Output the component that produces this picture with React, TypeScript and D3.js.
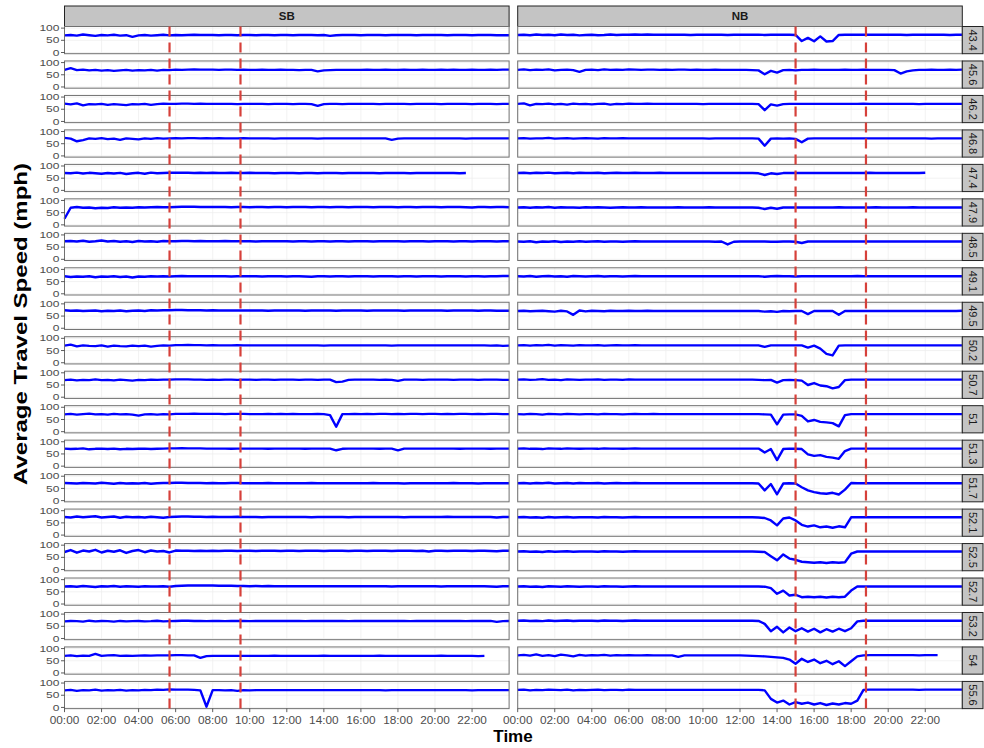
import React from 'react';
import * as d3 from 'd3';

// Sampling instants in hours (every 20 minutes, 00:00 .. 24:00)
const TIMES: number[] = d3.range(0, 73).map((i) => i / 3);

const DIRECTIONS = ['SB', 'NB'];
const SEGMENTS = ['43.4', '45.6', '46.2', '46.8', '47.4', '47.9', '48.5', '49.1', '49.5', '50.2', '50.7', '51', '51.3', '51.7', '52.1', '52.5', '52.7', '53.2', '54', '55.6'];

const X_TICKS = [0, 2, 4, 6, 8, 10, 12, 14, 16, 18, 20, 22];
const X_TICK_LABELS = ['00:00', '02:00', '04:00', '06:00', '08:00', '10:00', '12:00', '14:00', '16:00', '18:00', '20:00', '22:00'];
const Y_TICKS = [0, 50, 100];

// Peak-period markers (hours)
const PEAK_SB = [5.67, 9.5];
const PEAK_NB = [15.0, 18.8];

type V = number | null;
const N = null;

// ---------------- SB ----------------
const SB_43_4: V[] = [
  70, 72, 69, 74, 71, 68, 72, 70, 73, 69, 71, 64,
  70, 72, 69, 71, 73, 70, 72, 71, 72, 73, 72, 72,
  72, 71, 72, 72, 71, 72, 72, 71, 72, 72, 71, 72,
  72, 71, 72, 72, 72, 71, 72, 68, 71, 72, 72, 72,
  71, 72, 72, 72, 71, 72, 72, 72, 72, 71, 72, 72,
  72, 72, 71, 72, 72, 72, 71, 72, 72, 72, 71, 71,
  71];
const SB_45_6: V[] = [
  70, 77, 69, 71, 68, 70, 67, 69, 66, 68, 70, 67,
  69, 68, 70, 67, 70, 69, 71, 70, 71, 72, 71, 71,
  71, 70, 71, 71, 70, 71, 70, 70, 71, 70, 70, 71,
  70, 70, 69, 70, 70, 64, 68, 69, 70, 70, 70, 70,
  70, 71, 70, 70, 71, 70, 70, 71, 70, 70, 71, 70,
  70, 71, 70, 71, 70, 70, 71, 70, 70, 71, 70, 71,
  71];
const SB_46_2: V[] = [
  73, 70, 74, 66, 71, 70, 72, 68, 71, 69, 67, 71,
  70, 72, 68, 71, 73, 72, 72, 73, 73, 72, 73, 72,
  72, 72, 72, 72, 71, 72, 72, 72, 72, 71, 72, 72,
  72, 71, 72, 72, 71, 64, 71, 72, 72, 71, 72, 72,
  72, 72, 72, 71, 72, 72, 72, 72, 71, 72, 72, 72,
  72, 71, 72, 72, 72, 72, 71, 72, 72, 72, 71, 72,
  72];
const SB_46_8: V[] = [
  74, 71, 60, 65, 72, 70, 73, 69, 71, 66, 72, 70,
  68, 72, 70, 73, 71, 72, 73, 72, 73, 73, 72, 73,
  72, 73, 72, 72, 72, 73, 72, 72, 72, 72, 71, 72,
  72, 72, 72, 72, 72, 71, 72, 72, 72, 72, 72, 72,
  72, 72, 72, 72, 72, 66, 71, 72, 72, 72, 72, 72,
  72, 72, 72, 72, 72, 71, 72, 72, 72, 72, 72, 72,
  72];
const SB_47_4: V[] = [
  71, 70, 73, 69, 72, 70, 68, 71, 69, 72, 67, 70,
  72, 68, 73, 70, 71, 72, 72, 72, 72, 71, 72, 71,
  72, 71, 71, 72, 71, 71, 72, 71, 71, 71, 70, 71,
  71, 71, 70, 71, 71, 70, 71, 71, 71, 70, 71, 71,
  71, 71, 71, 70, 71, 71, 71, 71, 70, 71, 71, 71,
  71, 71, 71, 71, 70, 71, N, N, N, N, N, N,
  N];
const SB_47_9: V[] = [
  25, 70, 73, 70, 71, 68, 70, 69, 72, 70, 71, 70,
  72, 71, 72, 73, 72, 72, 73, 74, 74, 74, 73, 73,
  73, 73, 73, 72, 73, 73, 72, 73, 73, 72, 73, 73,
  72, 73, 73, 73, 72, 73, 73, 72, 73, 73, 72, 73,
  73, 73, 72, 73, 73, 73, 72, 73, 73, 72, 73, 73,
  73, 72, 73, 73, 73, 72, 71, 73, 73, 72, 73, 73,
  72];
const SB_48_5: V[] = [
  74, 75, 73, 76, 72, 74, 77, 73, 75, 72, 74, 71,
  75, 73, 74, 72, 75, 74, 74, 75, 75, 74, 75, 74,
  74, 74, 75, 74, 74, 74, 74, 73, 74, 74, 74, 74,
  74, 73, 74, 74, 73, 74, 74, 73, 74, 74, 73, 74,
  74, 74, 73, 74, 74, 74, 74, 73, 74, 74, 74, 73,
  74, 74, 74, 73, 74, 74, 73, 74, 74, 74, 73, 74,
  74];
const SB_49_1: V[] = [
  72, 69, 71, 70, 72, 68, 71, 70, 72, 69, 71, 67,
  71, 70, 72, 71, 72, 71, 72, 73, 72, 72, 72, 72,
  72, 72, 72, 71, 72, 72, 72, 72, 71, 72, 72, 72,
  71, 72, 72, 71, 70, 72, 72, 71, 72, 72, 71, 72,
  72, 72, 71, 72, 72, 72, 71, 72, 72, 71, 72, 72,
  72, 71, 72, 72, 72, 71, 72, 72, 71, 72, 72, 73,
  73];
const SB_49_5: V[] = [
  74, 72, 73, 71, 72, 73, 70, 72, 71, 73, 70, 72,
  73, 71, 74, 73, 74, 74, 75, 75, 74, 74, 74, 73,
  74, 73, 73, 73, 73, 73, 73, 73, 73, 72, 73, 73,
  73, 73, 73, 72, 73, 73, 73, 73, 72, 73, 73, 73,
  73, 72, 73, 73, 73, 73, 73, 72, 73, 73, 73, 73,
  73, 73, 72, 73, 73, 73, 73, 72, 73, 73, 72, 72,
  72];
const SB_50_2: V[] = [
  70, 74, 67, 71, 69, 68, 71, 66, 70, 68, 67, 70,
  68, 70, 66, 69, 71, 70, 72, 72, 73, 72, 72, 71,
  72, 71, 71, 71, 72, 71, 71, 71, 71, 71, 71, 71,
  71, 71, 71, 71, 71, 71, 70, 71, 71, 71, 71, 71,
  71, 71, 71, 71, 71, 70, 71, 71, 71, 71, 71, 71,
  71, 71, 71, 71, 71, 71, 71, 71, 71, 70, 71, 69,
  70];
const SB_50_7: V[] = [
  70, 72, 69, 71, 70, 73, 70, 71, 69, 72, 70, 68,
  71, 70, 72, 71, 72, 72, 73, 73, 73, 72, 72, 71,
  72, 71, 72, 72, 71, 72, 72, 71, 72, 72, 71, 72,
  72, 72, 71, 72, 72, 71, 72, 72, 62, 64, 71, 72,
  72, 72, 72, 71, 72, 71, 67, 72, 72, 72, 71, 72,
  72, 72, 72, 71, 72, 72, 72, 71, 72, 72, 72, 71,
  71];
const SB_51: V[] = [
  71, 73, 70, 72, 74, 71, 72, 70, 73, 71, 72, 70,
  66, 71, 72, 70, 72, 71, 73, 73, 73, 74, 73, 73,
  73, 73, 72, 73, 73, 73, 72, 72, 72, 73, 72, 73,
  72, 73, 72, 72, 72, 73, 72, 68, 20, 72, 72, 73,
  72, 73, 72, 73, 73, 72, 73, 72, 73, 73, 72, 73,
  73, 72, 73, 72, 73, 73, 72, 73, 72, 73, 73, 72,
  72];
const SB_51_3: V[] = [
  72, 70, 71, 73, 69, 71, 72, 70, 72, 69, 71, 70,
  71, 72, 70, 71, 72, 73, 73, 74, 73, 73, 73, 72,
  72, 72, 72, 71, 72, 72, 72, 72, 72, 71, 72, 72,
  72, 72, 72, 71, 72, 72, 72, 72, 65, 71, 72, 72,
  72, 72, 72, 71, 72, 72, 65, 72, 72, 72, 72, 72,
  72, 72, 72, 72, 71, 72, 72, 72, 72, 71, 72, 72,
  72];
const SB_51_7: V[] = [
  72, 71, 70, 72, 71, 70, 73, 71, 69, 72, 70, 71,
  70, 72, 69, 71, 72, 72, 73, 73, 72, 72, 72, 71,
  72, 71, 71, 72, 72, 71, 71, 71, 71, 72, 71, 71,
  71, 71, 71, 71, 72, 71, 71, 71, 71, 71, 71, 71,
  71, 71, 72, 71, 71, 71, 71, 70, 71, 71, 71, 71,
  71, 71, 71, 72, 71, 71, 71, 70, 71, 71, 71, 71,
  71];
const SB_52_1: V[] = [
  74, 72, 76, 73, 75, 77, 72, 74, 76, 71, 75, 73,
  74, 72, 75, 73, 71, 74, 75, 76, 76, 75, 75, 74,
  75, 74, 74, 74, 75, 74, 74, 74, 73, 74, 74, 74,
  74, 74, 74, 74, 73, 74, 74, 74, 74, 74, 73, 74,
  74, 74, 74, 74, 74, 74, 74, 73, 74, 74, 74, 74,
  74, 74, 75, 74, 74, 74, 74, 74, 74, 74, 72, 74,
  74];
const SB_52_5: V[] = [
  72, 80, 69, 78, 74, 81, 70, 77, 73, 79, 68, 76,
  80, 71, 78, 74, 76, 70, 78, 77, 77, 76, 77, 76,
  77, 76, 77, 77, 76, 77, 77, 76, 77, 77, 77, 76,
  77, 77, 76, 77, 77, 77, 76, 77, 77, 77, 76, 77,
  77, 76, 77, 77, 77, 76, 77, 77, 77, 76, 77, 74,
  77, 77, 76, 77, 77, 77, 76, 77, 77, 76, 75, 77,
  77];
const SB_52_7: V[] = [
  72, 73, 71, 74, 72, 70, 73, 72, 74, 71, 73, 72,
  71, 73, 72, 72, 73, 71, 74, 75, 76, 76, 76, 76,
  76, 75, 75, 75, 74, 74, 73, 74, 73, 74, 73, 73,
  73, 73, 73, 73, 73, 73, 73, 73, 73, 73, 73, 73,
  73, 73, 73, 73, 73, 72, 73, 73, 73, 73, 73, 73,
  73, 72, 73, 73, 73, 73, 73, 73, 73, 72, 71, 73,
  73];
const SB_53_2: V[] = [
  70, 72, 71, 69, 73, 70, 72, 71, 69, 72, 70, 71,
  72, 70, 71, 73, 70, 71, 72, 73, 73, 72, 72, 71,
  72, 72, 71, 72, 72, 72, 71, 72, 72, 72, 72, 72,
  72, 72, 72, 71, 72, 72, 72, 72, 72, 72, 71, 72,
  72, 72, 72, 72, 72, 72, 72, 72, 71, 72, 72, 72,
  72, 72, 72, 72, 72, 71, 72, 72, 72, 72, 68, 71,
  72];
const SB_54: V[] = [
  70, 72, 69, 71, 70, 78, 70, 72, 73, 70, 71, 70,
  71, 72, 71, 72, 72, 72, 73, 73, 72, 72, 62, 69,
  70, 70, 70, 70, 70, 70, 70, 70, 70, 70, 71, 70,
  70, 70, 70, 70, 70, 70, 71, 70, 70, 70, 70, 70,
  70, 70, 70, 71, 70, 70, 70, 70, 70, 70, 70, 70,
  70, 71, 70, 70, 70, 70, 70, 69, 70, N, N, N,
  N];
const SB_55_6: V[] = [
  70, 72, 68, 71, 70, 73, 69, 71, 70, 72, 69, 71,
  70, 72, 71, 73, 72, 74, 73, 73, 73, 72, 70, 3,
  71, 71, 70, 71, 68, 71, 70, 71, 71, 71, 71, 71,
  71, 71, 71, 71, 71, 71, 71, 71, 71, 71, 71, 71,
  71, 71, 71, 71, 70, 71, 71, 71, 71, 71, 71, 71,
  71, 71, 71, 71, 71, 71, 70, 71, 71, 71, 71, 71,
  71];

// ---------------- NB ----------------
const NB_43_4: V[] = [
  72, 73, 71, 74, 72, 73, 71, 74, 72, 73, 70, 72,
  73, 71, 72, 74, 72, 73, 73, 74, 73, 74, 73, 73,
  73, 73, 73, 73, 72, 73, 73, 73, 73, 73, 72, 73,
  73, 73, 73, 73, 72, 73, 73, 73, 73, 72, 47, 60,
  46, 66, 45, 47, 72, 73, 73, 73, 73, 73, 73, 73,
  73, 73, 73, 72, 73, 73, 73, 73, 73, 73, 72, 73,
  73];
const NB_45_6: V[] = [
  70, 72, 69, 71, 70, 72, 68, 70, 71, 69, 62, 70,
  71, 69, 72, 70, 71, 70, 72, 71, 70, 71, 71, 70,
  71, 70, 71, 71, 70, 71, 70, 70, 71, 70, 70, 70,
  70, 70, 69, 68, 52, 66, 59, 69, 70, 68, 70, 70,
  71, 70, 70, 70, 70, 71, 70, 70, 71, 70, 70, 70,
  70, 69, 55, 64, 68, 70, 70, 71, 70, 70, 71, 70,
  71];
const NB_46_2: V[] = [
  72, 74, 66, 72, 71, 73, 70, 72, 69, 73, 71, 72,
  70, 72, 73, 69, 72, 71, 73, 72, 72, 73, 72, 72,
  72, 72, 72, 72, 72, 72, 71, 72, 72, 72, 72, 72,
  72, 72, 72, 71, 46, 70, 65, 71, 72, 72, 72, 72,
  72, 72, 72, 72, 72, 72, 72, 72, 73, 72, 72, 72,
  72, 72, 72, 72, 72, 71, 72, 72, 72, 72, 72, 72,
  72];
const NB_46_8: V[] = [
  72, 73, 71, 72, 72, 74, 71, 72, 73, 71, 72, 73,
  72, 71, 73, 72, 72, 73, 72, 72, 72, 72, 72, 72,
  72, 72, 72, 72, 72, 72, 72, 71, 72, 72, 72, 72,
  72, 72, 72, 71, 42, 71, 72, 71, 72, 70, 56, 71,
  72, 72, 72, 72, 72, 72, 72, 72, 72, 72, 72, 72,
  72, 72, 72, 72, 72, 72, 72, 71, 72, 72, 72, 72,
  72];
const NB_47_4: V[] = [
  71, 72, 70, 72, 71, 73, 70, 71, 72, 70, 72, 71,
  71, 72, 70, 71, 72, 71, 71, 72, 71, 71, 71, 72,
  71, 71, 71, 71, 71, 71, 71, 71, 71, 71, 71, 71,
  71, 71, 71, 70, 63, 70, 67, 71, 71, 71, 71, 71,
  71, 71, 71, 71, 71, 71, 71, 71, 71, 72, 71, 71,
  71, 71, 71, 71, 71, 71, 72, N, N, N, N, N,
  N];
const NB_47_9: V[] = [
  71, 72, 70, 72, 71, 73, 70, 72, 71, 71, 70, 72,
  71, 72, 71, 70, 71, 72, 71, 71, 72, 71, 71, 71,
  71, 71, 72, 71, 71, 71, 71, 72, 71, 71, 71, 71,
  71, 71, 71, 70, 65, 70, 66, 71, 71, 71, 71, 71,
  71, 71, 71, 71, 72, 71, 71, 71, 71, 71, 72, 71,
  71, 71, 71, 71, 72, 71, 71, 71, 71, 71, 71, 71,
  71];
const NB_48_5: V[] = [
  73, 72, 74, 70, 73, 72, 74, 71, 73, 72, 74, 72,
  73, 74, 72, 73, 73, 72, 73, 74, 73, 73, 73, 73,
  73, 73, 73, 73, 73, 73, 73, 73, 72, 73, 61, 72,
  73, 73, 73, 73, 73, 72, 72, 73, 73, 72, 67, 73,
  73, 73, 73, 73, 73, 73, 73, 73, 73, 73, 73, 73,
  73, 73, 73, 73, 73, 73, 73, 73, 73, 73, 73, 73,
  73];
const NB_49_1: V[] = [
  72, 71, 73, 70, 72, 73, 71, 72, 70, 73, 72, 71,
  72, 73, 71, 72, 72, 71, 72, 73, 72, 72, 72, 72,
  72, 72, 72, 72, 72, 72, 72, 72, 72, 72, 72, 72,
  72, 72, 72, 72, 70, 72, 73, 72, 72, 71, 72, 72,
  72, 72, 72, 72, 72, 72, 72, 73, 72, 72, 72, 72,
  72, 72, 72, 72, 72, 72, 72, 72, 72, 72, 72, 72,
  72];
const NB_49_5: V[] = [
  71, 72, 70, 71, 72, 70, 68, 72, 69, 55, 73, 69,
  72, 71, 70, 72, 71, 71, 72, 71, 71, 72, 71, 71,
  71, 71, 71, 71, 71, 71, 71, 71, 71, 71, 71, 71,
  71, 71, 71, 71, 68, 70, 67, 71, 70, 71, 71, 58,
  71, 71, 71, 71, 55, 71, 71, 71, 71, 71, 71, 71,
  71, 71, 71, 71, 71, 71, 71, 71, 71, 71, 71, 71,
  72];
const NB_50_2: V[] = [
  71, 72, 70, 72, 71, 73, 70, 72, 71, 70, 72, 71,
  71, 72, 70, 71, 72, 71, 71, 72, 71, 71, 71, 71,
  71, 71, 71, 71, 71, 71, 71, 71, 71, 71, 71, 71,
  71, 71, 71, 71, 65, 71, 71, 71, 71, 71, 71, 62,
  70, 58, 36, 30, 70, 71, 71, 71, 71, 71, 71, 71,
  71, 71, 71, 71, 71, 71, 71, 71, 71, 71, 71, 71,
  71];
const NB_50_7: V[] = [
  72, 73, 71, 72, 74, 71, 72, 70, 73, 72, 71, 72,
  72, 73, 71, 72, 72, 71, 73, 72, 72, 72, 72, 72,
  72, 72, 72, 72, 72, 72, 72, 72, 72, 72, 72, 72,
  72, 72, 72, 71, 70, 71, 60, 70, 71, 70, 68, 50,
  58, 48, 45, 36, 42, 70, 72, 72, 72, 72, 72, 72,
  72, 72, 72, 72, 72, 72, 72, 72, 72, 72, 72, 72,
  72];
const NB_51: V[] = [
  72, 71, 73, 72, 70, 73, 72, 71, 73, 72, 71, 72,
  72, 71, 73, 72, 72, 71, 72, 73, 72, 72, 73, 72,
  72, 72, 72, 72, 72, 72, 72, 72, 72, 72, 72, 72,
  72, 72, 72, 72, 71, 70, 30, 70, 71, 71, 65, 42,
  48, 40, 38, 35, 22, 68, 72, 72, 72, 72, 72, 72,
  72, 72, 72, 72, 72, 72, 72, 72, 72, 72, 72, 72,
  72];
const NB_51_3: V[] = [
  72, 73, 71, 72, 70, 73, 72, 71, 73, 72, 71, 72,
  72, 71, 73, 72, 72, 71, 72, 73, 72, 72, 72, 72,
  72, 72, 72, 72, 72, 72, 72, 72, 72, 72, 72, 72,
  72, 72, 72, 72, 56, 70, 25, 70, 72, 71, 70, 48,
  42, 45, 38, 35, 30, 62, 72, 72, 72, 72, 72, 72,
  72, 72, 72, 72, 72, 72, 72, 72, 72, 72, 72, 72,
  72];
const NB_51_7: V[] = [
  71, 72, 70, 72, 71, 73, 70, 71, 72, 70, 72, 71,
  71, 72, 70, 71, 72, 71, 71, 72, 71, 71, 71, 71,
  71, 71, 71, 71, 71, 71, 71, 71, 71, 71, 71, 71,
  71, 71, 71, 70, 42, 68, 26, 70, 71, 70, 55, 42,
  35, 30, 28, 32, 25, 45, 72, 71, 71, 71, 71, 71,
  71, 71, 71, 71, 71, 71, 71, 71, 71, 71, 71, 71,
  71];
const NB_52_1: V[] = [
  73, 74, 72, 73, 71, 74, 72, 73, 74, 72, 73, 73,
  73, 72, 74, 73, 73, 72, 73, 74, 73, 73, 73, 73,
  73, 73, 73, 73, 73, 73, 73, 73, 73, 73, 73, 73,
  73, 73, 73, 72, 70, 60, 40, 68, 72, 60, 42, 35,
  40, 32, 35, 30, 36, 32, 73, 73, 73, 73, 73, 73,
  73, 73, 73, 73, 73, 73, 73, 73, 73, 73, 73, 73,
  73];
const NB_52_5: V[] = [
  74, 75, 73, 74, 72, 75, 73, 74, 75, 73, 74, 74,
  74, 73, 75, 74, 74, 73, 74, 75, 74, 74, 74, 74,
  74, 74, 74, 74, 74, 74, 74, 74, 74, 74, 74, 74,
  74, 74, 74, 73, 72, 55, 38, 62, 45, 40, 32, 30,
  28, 30, 27, 30, 28, 30, 65, 74, 74, 74, 74, 74,
  74, 74, 74, 74, 74, 74, 74, 74, 74, 74, 74, 74,
  74];
const NB_52_7: V[] = [
  72, 73, 71, 72, 70, 73, 72, 71, 73, 72, 71, 72,
  72, 71, 73, 72, 72, 71, 72, 73, 72, 72, 72, 72,
  72, 72, 72, 72, 72, 72, 72, 72, 72, 72, 72, 72,
  72, 72, 72, 72, 71, 65, 42, 55, 35, 38, 28, 30,
  28, 30, 27, 30, 28, 30, 55, 72, 72, 72, 72, 72,
  72, 72, 72, 72, 72, 72, 72, 72, 72, 72, 72, 72,
  72];
const NB_53_2: V[] = [
  73, 74, 72, 73, 71, 74, 72, 73, 74, 72, 73, 73,
  73, 72, 74, 73, 73, 72, 73, 74, 73, 73, 73, 73,
  73, 73, 73, 73, 73, 73, 73, 73, 73, 73, 73, 73,
  73, 73, 73, 72, 60, 30, 48, 25, 45, 30, 42, 28,
  40, 25, 38, 28, 40, 30, 42, 70, 73, 73, 73, 73,
  73, 73, 73, 73, 73, 73, 73, 73, 73, 73, 73, 73,
  73];
const NB_54: V[] = [
  72, 74, 71, 76, 70, 73, 69, 75, 72, 68, 74, 71,
  73, 72, 74, 71, 73, 72, 73, 72, 72, 73, 72, 72,
  72, 72, 66, 72, 72, 72, 72, 72, 72, 72, 72, 72,
  72, 71, 70, 69, 68, 66, 64, 62, 55, 38, 58, 45,
  55, 40, 50, 36, 48, 28, 48, 68, 72, 73, 73, 73,
  73, 73, 73, 73, 73, 72, 73, 73, 73, N, N, N,
  N];
const NB_55_6: V[] = [
  72, 73, 70, 72, 71, 73, 72, 71, 73, 70, 72, 71,
  72, 73, 71, 72, 72, 71, 73, 72, 72, 72, 72, 72,
  72, 72, 72, 72, 72, 72, 72, 72, 72, 72, 72, 72,
  72, 72, 72, 72, 70, 35, 20, 28, 12, 22, 15, 20,
  12, 18, 10, 16, 12, 18, 15, 28, 72, 73, 73, 73,
  73, 73, 73, 73, 73, 72, 73, 73, 73, 73, 73, 73,
  73];

const SB_SERIES = [SB_43_4, SB_45_6, SB_46_2, SB_46_8, SB_47_4, SB_47_9, SB_48_5, SB_49_1, SB_49_5, SB_50_2, SB_50_7, SB_51, SB_51_3, SB_51_7, SB_52_1, SB_52_5, SB_52_7, SB_53_2, SB_54, SB_55_6];
const NB_SERIES = [NB_43_4, NB_45_6, NB_46_2, NB_46_8, NB_47_4, NB_47_9, NB_48_5, NB_49_1, NB_49_5, NB_50_2, NB_50_7, NB_51, NB_51_3, NB_51_7, NB_52_1, NB_52_5, NB_52_7, NB_53_2, NB_54, NB_55_6];

// ---------------- layout ----------------
const W = 984;
const H = 748;
const COL_X = [64.5, 517.7];
const COL_W = 444.6;
const ROW_TOP0 = 26.5;
const ROW_STEP = 34.47;
const PANEL_H = 27.2;
const STRIP_TOP = 6;
const RSTRIP_X = 962.3;
const RSTRIP_W = 20.7;
const FONT = "'Liberation Sans', Arial, Helvetica, sans-serif";

export default function App() {
  const xScales = COL_X.map((x0) => d3.scaleLinear().domain([0, 24]).range([x0, x0 + COL_W]));
  const rowTop = (r: number) => ROW_TOP0 + r * ROW_STEP;
  const yScaleFor = (r: number) => d3.scaleLinear().domain([-4.9, 106.6]).range([rowTop(r) + PANEL_H, rowTop(r)]);
  const lastBottom = rowTop(SEGMENTS.length - 1) + PANEL_H;
  const seriesByCol = [SB_SERIES, NB_SERIES];
  const peaks = [PEAK_SB, PEAK_NB];

  return (
    <svg width={W} height={H} style={{ position: 'absolute', left: 0, top: 0, background: '#fff' }} fontFamily={FONT}>
      <rect x={0} y={0} width={W} height={H} fill="#fff" />
      {/* top strips */}
      {DIRECTIONS.map((d, c) => (
        <g key={'ts' + d}>
          <rect x={COL_X[c]} y={STRIP_TOP} width={COL_W} height={ROW_TOP0 - STRIP_TOP} fill="#c4c4c4" stroke="#222" strokeWidth={1} />
          <text x={COL_X[c] + COL_W / 2} y={(STRIP_TOP + ROW_TOP0) / 2 + 4} textAnchor="middle" fontSize={11.5} fontWeight="bold" fill="#1a1a1a">{d}</text>
        </g>
      ))}
      {/* panels */}
      {SEGMENTS.map((seg, r) => {
        const y = yScaleFor(r);
        const top = rowTop(r);
        return (
          <g key={'row' + seg}>
            {DIRECTIONS.map((d, c) => {
              const x = xScales[c];
              const line = d3.line<V>()
                .defined((v) => v != null)
                .x((_, i) => x(TIMES[i]))
                .y((v) => y(v as number));
              return (
                <g key={'p' + d}>
                  <rect x={COL_X[c]} y={top} width={COL_W} height={PANEL_H} fill="#fff" />
                  {X_TICKS.map((t) => (
                    <line key={'gx' + t} x1={x(t)} x2={x(t)} y1={top} y2={top + PANEL_H} stroke="#ececec" strokeWidth={0.7} />
                  ))}
                  {Y_TICKS.map((t) => (
                    <line key={'gy' + t} x1={COL_X[c]} x2={COL_X[c] + COL_W} y1={y(t)} y2={y(t)} stroke="#ececec" strokeWidth={0.7} />
                  ))}
                  <path d={line(seriesByCol[c][r]) || ''} fill="none" stroke="#0000ff" strokeWidth={2.4} strokeLinejoin="round" />
                  <rect x={COL_X[c]} y={top} width={COL_W} height={PANEL_H} fill="none" stroke="#707070" strokeWidth={1} />
                </g>
              );
            })}
            {/* right strip */}
            <rect x={RSTRIP_X} y={top} width={RSTRIP_W} height={PANEL_H} fill="#c4c4c4" stroke="#222" strokeWidth={1} />
            <text transform={`translate(${RSTRIP_X + RSTRIP_W / 2 - 3.8},${top + PANEL_H / 2}) rotate(90)`} textAnchor="middle" fontSize={11} fill="#1a1a1a">{seg}</text>
            {/* y axis */}
            {Y_TICKS.map((t) => (
              <g key={'yt' + t}>
                <line x1={COL_X[0] - 3.5} x2={COL_X[0]} y1={y(t)} y2={y(t)} stroke="#333" strokeWidth={0.8} />
                <text transform={`translate(${COL_X[0] - 5},${y(t) + 3.1}) scale(1.4,1)`} textAnchor="end" fontSize={8.6} fill="#4d4d4d">{t}</text>
              </g>
            ))}
          </g>
        );
      })}
      {/* peak period dashed lines */}
      {peaks.map((arr, c) => arr.map((p) => (
        <line key={'pk' + c + p} x1={xScales[c](p)} x2={xScales[c](p)} y1={ROW_TOP0} y2={lastBottom} stroke="#d6403a" strokeWidth={2.2} strokeDasharray="10,6" />
      )))}
      {/* x axes */}
      {DIRECTIONS.map((d, c) => (
        <g key={'xa' + d}>
          {X_TICKS.map((t, i) => (
            <g key={'xt' + t}>
              <line x1={xScales[c](t)} x2={xScales[c](t)} y1={lastBottom} y2={lastBottom + 3.5} stroke="#333" strokeWidth={0.8} />
              <text x={xScales[c](t)} y={lastBottom + 15} textAnchor="middle" fontSize={11.8} fill="#4d4d4d">{X_TICK_LABELS[i]}</text>
            </g>
          ))}
        </g>
      ))}
      {/* axis titles */}
      <text x={513} y={742} textAnchor="middle" fontSize={17} fontWeight="bold" fill="#000">Time</text>
      <text transform={`translate(27,${324}) rotate(-90)`} textAnchor="middle" fontSize={18} fontWeight="bold" fill="#000" textLength={322} lengthAdjust="spacingAndGlyphs">Average Travel Speed (mph)</text>
    </svg>
  );
}
